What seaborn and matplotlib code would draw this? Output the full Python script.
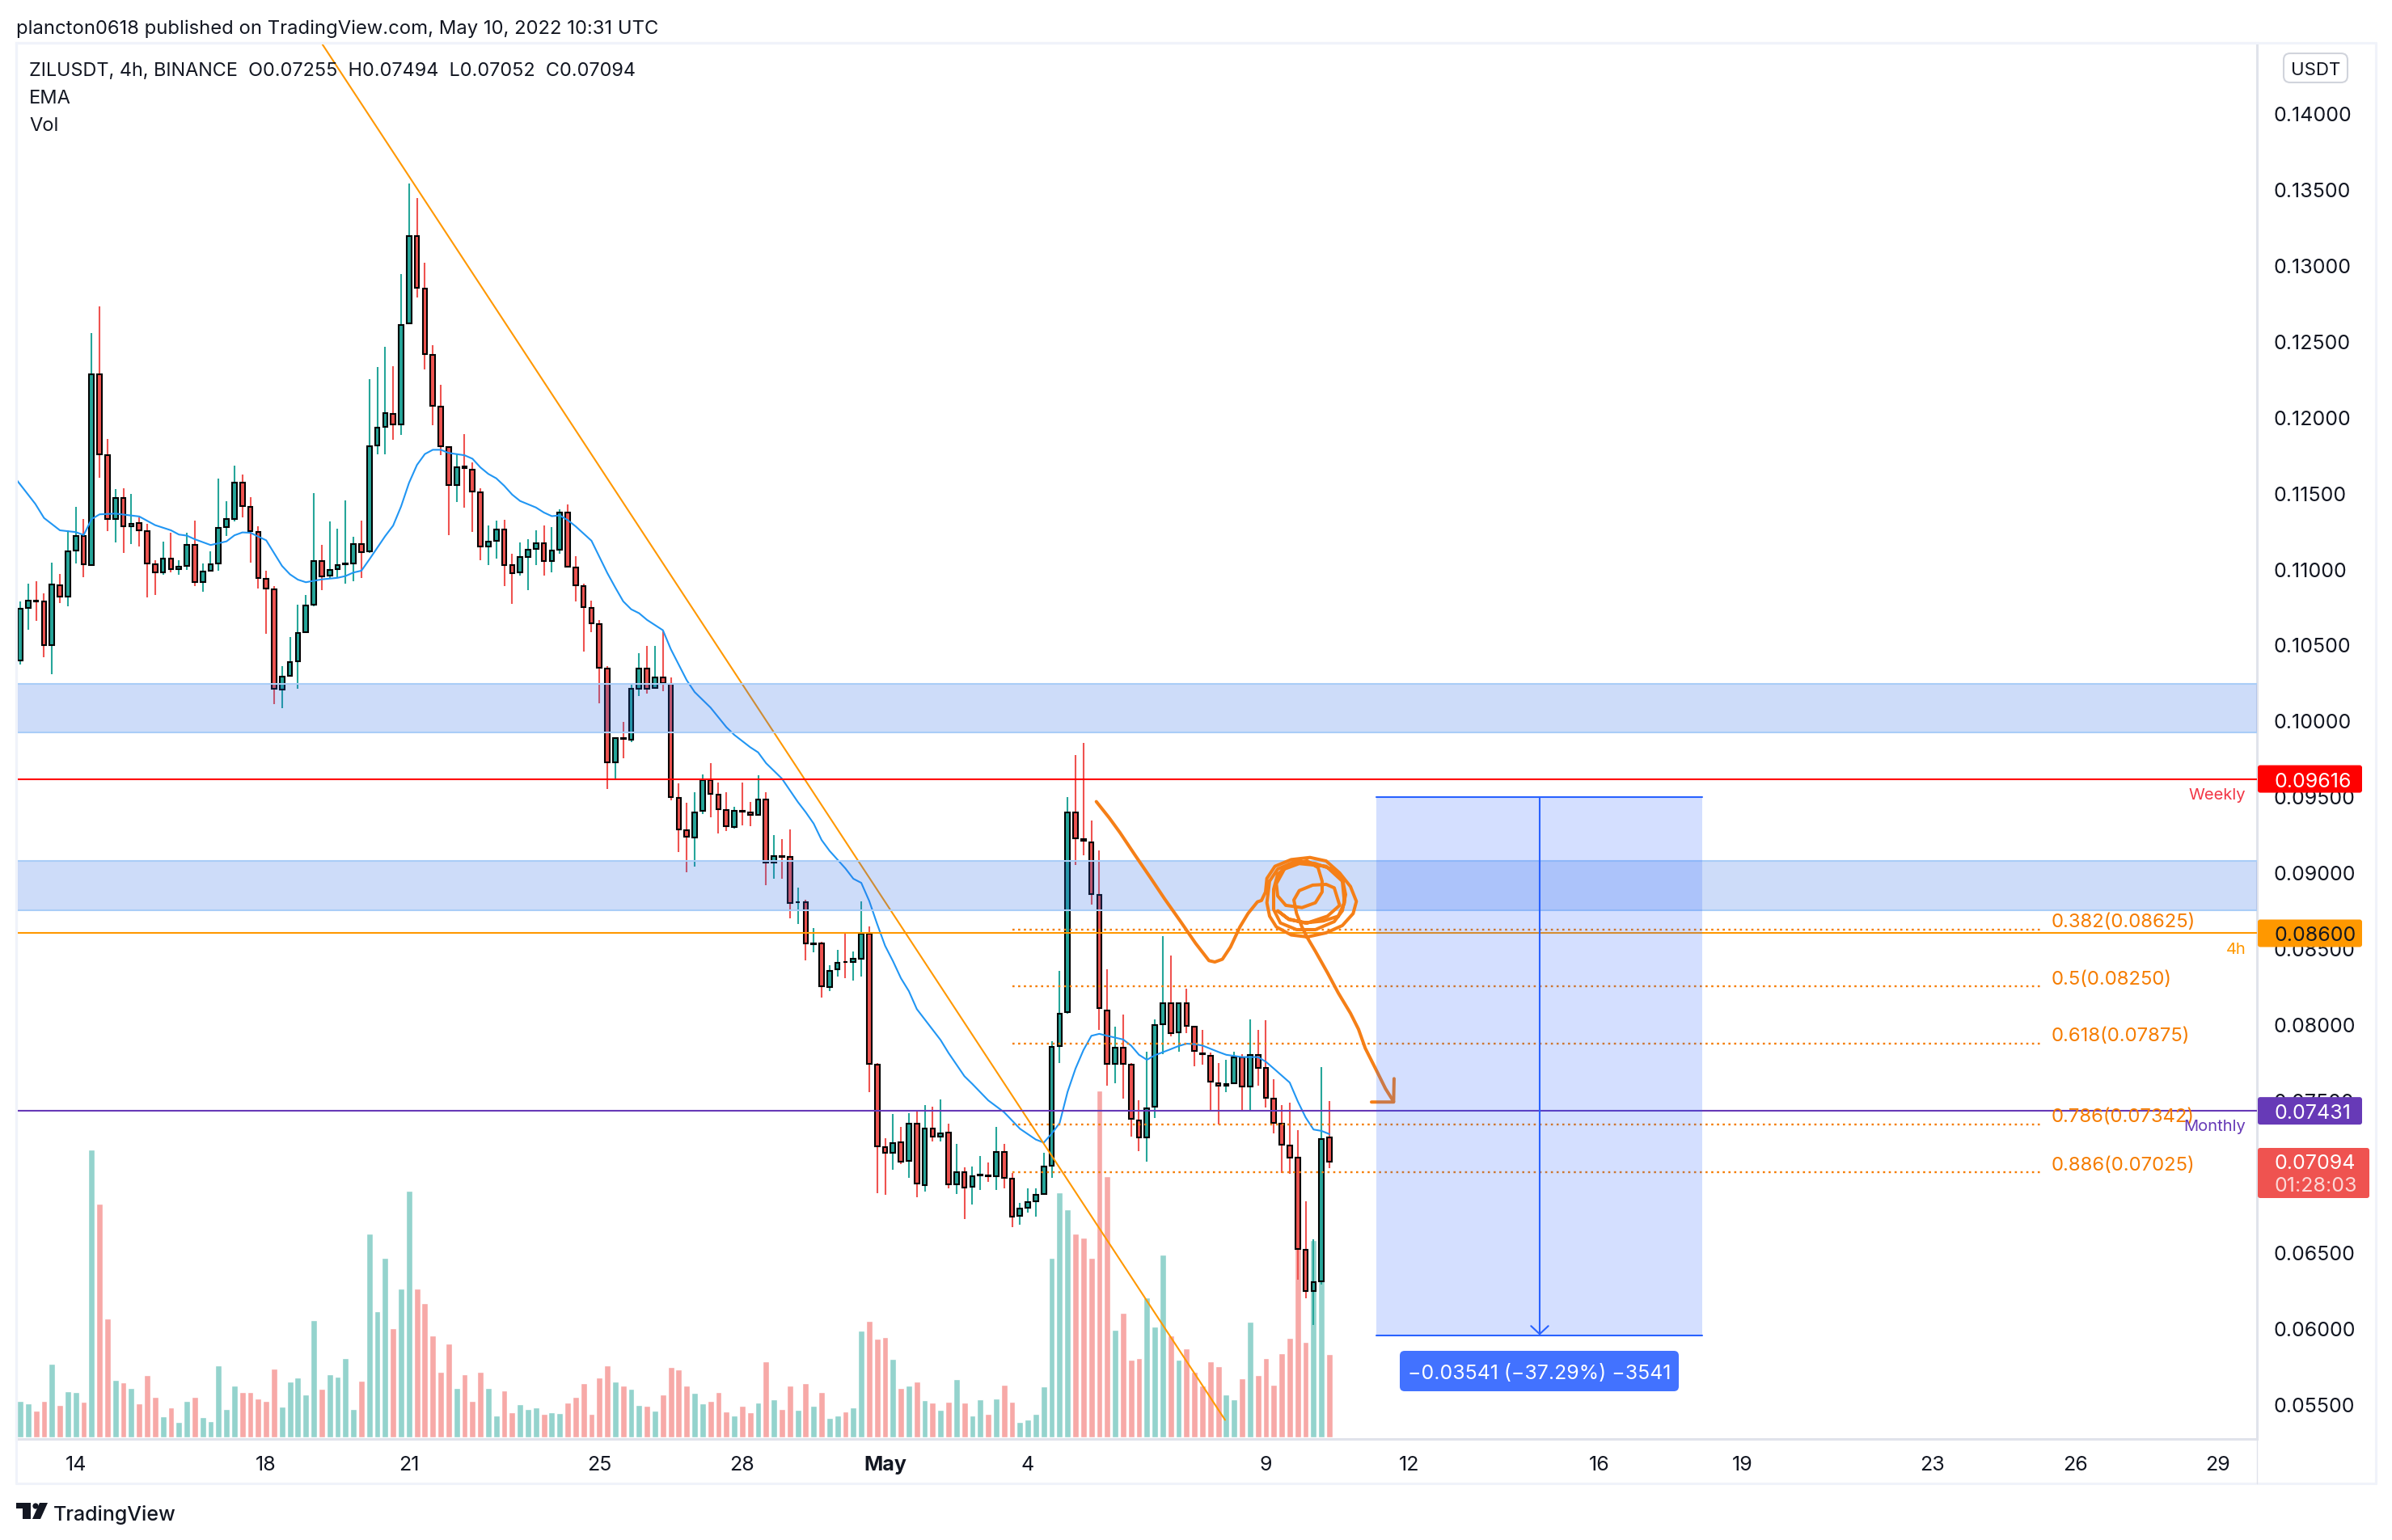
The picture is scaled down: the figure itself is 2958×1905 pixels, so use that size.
import numpy as np
import pandas as pd
import seaborn as sns
import matplotlib.pyplot as plt
from matplotlib.lines import Line2D
from matplotlib.patches import FancyBboxPatch, Polygon, Circle, Rectangle
from matplotlib.transforms import IdentityTransform

W, H = 2958, 1906
TICK = 0.00001  # prices below are in ticks, same unit as the -3541 label

# 4h candles, ZILUSDT
opens = [
    10396, 10740, 10788, 10785, 10495, 10892, 10816, 11120, 11215, 11025,
    12282, 11747, 11329, 11467, 11279, 11301, 11249, 11030, 10975, 11068,
    10997, 11018, 11158, 10911, 10987, 11035, 11272, 11327, 11569, 11408,
    11244, 10935, 10864, 10206, 10293, 10393, 10581, 10764, 11051, 10954,
    10997, 11028, 11035, 11163, 11113, 11812, 11933, 12021, 11949, 12615,
    13192, 12845, 12408, 12068, 11802, 11550, 11671, 11652, 11503, 11149,
    11182, 11258, 11025, 10975, 11077, 11130, 11168, 11049, 11125, 11370,
    11009, 10885, 10742, 10636, 10344, 9723, 9886, 9872, 10212, 10341,
    10215, 10286, 10242, 9489, 9278, 9231, 9404, 9611, 9512, 9414,
    9302, 9404, 9394, 9380, 9482, 9068, 9109, 9102, 8803, 8803,
    8528, 8532, 8247, 8362, 8413, 8413, 8433, 8599, 7734, 7194,
    7157, 7222, 7103, 7347, 6943, 7317, 7262, 7286, 6950, 7025,
    6930, 7006, 7006, 7000, 7159, 6985, 6740, 6792, 6835, 6884,
    7070, 7858, 8081, 9395, 9218, 9196, 8851, 8090, 7739, 7846,
    7733, 7369, 7256, 7458, 8002, 8142, 7950, 8139, 7984, 7809,
    7791, 7611, 7596, 7614, 7785, 7592, 7797, 7712, 7510, 7345,
    7201, 7122, 6514, 6245, 6309, 7255,
]
highs = [
    10785, 10899, 10918, 10840, 11042, 10963, 11251, 11405, 11329, 12551,
    12729, 11854, 11524, 11529, 11493, 11339, 11296, 11054, 11177, 11239,
    11054, 11239, 11315, 11035, 11115, 11593, 11443, 11679, 11619, 11469,
    11279, 10987, 10887, 10358, 10550, 10764, 10828, 11498, 11156, 11310,
    11263, 11450, 11211, 11317, 12249, 12327, 12463, 12332, 12940, 13537,
    13439, 13014, 12472, 12211, 11806, 11755, 11885, 11700, 11529, 11284,
    11315, 11322, 11096, 11173, 11192, 11253, 11287, 11272, 11391, 11422,
    11082, 10904, 10792, 10662, 10358, 9889, 9991, 10235, 10442, 10493,
    10493, 10595, 10283, 9587, 9458, 9529, 9645, 9720, 9594, 9529,
    9431, 9594, 9465, 9638, 9529, 9248, 9221, 9285, 8898, 8823,
    8637, 8542, 8389, 8491, 8610, 8481, 8810, 8647, 7745, 7252,
    7412, 7327, 7415, 7429, 7469, 7459, 7507, 7344, 7215, 7059,
    7067, 7134, 7091, 7327, 7214, 7021, 6823, 6923, 6920, 7153,
    7892, 8350, 9496, 9771, 9853, 9343, 9147, 8365, 7984, 8066,
    7745, 7501, 7822, 8035, 8579, 8451, 8145, 8234, 7993, 7962,
    7815, 7745, 7767, 7822, 7806, 8035, 7962, 8029, 7638, 7467,
    7486, 7302, 6838, 6587, 7718, 7494,
]
lows = [
    10372, 10600, 10655, 10417, 10308, 10773, 10754, 11035, 10942, 11020,
    11600, 11249, 11173, 11106, 11165, 11144, 10809, 10828, 10959, 10975,
    10959, 10994, 10887, 10849, 10985, 10987, 11213, 11310, 11339, 11042,
    10868, 10574, 10108, 10080, 10290, 10210, 10577, 10750, 10859, 10935,
    10940, 10904, 10918, 10940, 11106, 11752, 11752, 11850, 11881, 12610,
    12788, 12313, 11945, 11747, 11220, 11439, 11403, 11244, 11054, 11025,
    11066, 10887, 10766, 10954, 10859, 11023, 10954, 10975, 11101, 11010,
    10785, 10455, 10583, 10115, 9550, 9611, 9753, 9859, 10161, 10178,
    10210, 10195, 9475, 9136, 9000, 9041, 9383, 9363, 9258, 9271,
    9288, 9312, 9305, 9373, 8915, 8959, 8959, 8698, 8661, 8423,
    8474, 8175, 8219, 8314, 8304, 8287, 8314, 7554, 6889, 6879,
    7042, 7082, 6991, 6862, 6902, 7228, 7228, 6923, 6882, 6716,
    6817, 6908, 6966, 6908, 6923, 6664, 6679, 6762, 6737, 6880,
    6988, 7748, 8069, 9047, 9111, 8787, 7962, 7599, 7611, 7510,
    7263, 7168, 7098, 7382, 7806, 7922, 7819, 7944, 7727, 7736,
    7424, 7342, 7553, 7610, 7424, 7434, 7596, 7455, 7281, 7021,
    7015, 6319, 6196, 6019, 6288, 7052,
]
closes = [
    10738, 10790, 10785, 10495, 10897, 10816, 11115, 11215, 11028, 12282,
    11752, 11329, 11467, 11279, 11296, 11253, 11035, 10975, 11068, 10999,
    11016, 11158, 10911, 10982, 11030, 11270, 11327, 11569, 11415, 11249,
    10940, 10868, 10210, 10291, 10386, 10579, 10759, 11051, 10949, 10992,
    11025, 11035, 11163, 11111, 11807, 11928, 12025, 11949, 12605, 13192,
    12850, 12413, 12071, 11805, 11550, 11669, 11664, 11510, 11146, 11180,
    11258, 11023, 10971, 11077, 11125, 11168, 11049, 11120, 11370, 11013,
    10890, 10747, 10643, 10350, 9726, 9886, 9882, 10212, 10344, 10212,
    10283, 10246, 9495, 9285, 9234, 9394, 9608, 9516, 9417, 9305,
    9404, 9400, 9377, 9482, 9068, 9109, 9105, 8800, 8807, 8535,
    8535, 8250, 8355, 8403, 8409, 8430, 8599, 7741, 7198, 7157,
    7218, 7099, 7347, 6953, 7317, 7262, 7283, 6950, 7025, 6926,
    7000, 7009, 7003, 7159, 6991, 6737, 6786, 6829, 6878, 7064,
    7852, 8072, 9395, 9227, 9209, 8860, 8106, 7739, 7846, 7739,
    7379, 7256, 7449, 7996, 8142, 7944, 8139, 7990, 7825, 7803,
    7623, 7596, 7605, 7782, 7592, 7797, 7715, 7516, 7351, 7208,
    7125, 6523, 6245, 6303, 7244, 7094,
]
volumes = [
    135, 126, 99, 135, 273, 120, 171, 168, 132, 1068,
    867, 441, 213, 204, 183, 126, 231, 150, 78, 111,
    57, 135, 150, 75, 60, 267, 105, 192, 168, 168,
    144, 135, 255, 114, 207, 222, 159, 435, 180, 234,
    225, 294, 105, 210, 756, 468, 666, 405, 552, 915,
    552, 498, 378, 243, 348, 183, 234, 135, 243, 183,
    81, 174, 93, 123, 105, 111, 87, 93, 90, 129,
    150, 201, 87, 222, 267, 207, 192, 180, 120, 117,
    99, 159, 261, 252, 192, 165, 126, 135, 168, 96,
    81, 117, 93, 129, 282, 141, 105, 192, 102, 201,
    117, 168, 72, 81, 96, 111, 396, 432, 366, 372,
    291, 183, 192, 207, 138, 129, 102, 132, 216, 129,
    81, 141, 87, 144, 196, 133, 57, 67, 88, 189,
    666, 909, 847, 756, 742, 666, 1288, 969, 400, 463,
    289, 294, 520, 412, 678, 379, 289, 331, 243, 193,
    282, 265, 160, 141, 220, 429, 231, 294, 196, 313,
    370, 732, 355, 732, 651, 310,
]

# EMA, vertices only
ema_bars = [
    -0.5, 1.9, 3, 5, 7, 8, 9, 10, 12, 15, 17, 19, 20, 21, 22, 24, 26, 27, 28, 29,
    31, 33, 34, 35, 36, 38, 40, 41, 42, 43, 44, 46, 47, 48, 49, 50, 51, 52, 53, 54,
    56, 57, 58, 59, 60, 61, 62, 63, 65, 66, 67, 68, 69, 70, 72, 73, 74, 75, 76, 77,
    78, 79, 81, 82, 83, 84, 85, 86, 87, 89, 90, 92, 93, 94, 96, 98, 99, 100, 101, 102,
    103, 104, 105, 106, 107, 108, 109, 110, 111, 112, 113, 115, 116, 117, 119, 120, 122, 124, 126, 128,
    129, 130, 131, 132, 133, 134, 135, 136, 137, 139, 140, 141, 142, 143, 145, 146, 147, 148, 149, 151,
    152, 154, 156, 157, 158, 160, 161, 162, 163, 164, 165,
]
ema_vals = [
    11588, 11427, 11334, 11253, 11241, 11222, 11327, 11358, 11363, 11344, 11287, 11253, 11225, 11218, 11194, 11156, 11180, 11220, 11239, 11237,
    11187, 11018, 10963, 10928, 10911, 10930, 10940, 10952, 10975, 10987, 11061, 11215, 11284, 11410, 11565, 11683, 11755, 11783, 11783, 11762,
    11747, 11724, 11667, 11624, 11595, 11546, 11488, 11446, 11403, 11370, 11346, 11351, 11320, 11279, 11184, 11077, 10971, 10876, 10785, 10733,
    10707, 10663, 10595, 10470, 10368, 10266, 10188, 10137, 10086, 9957, 9906, 9825, 9791, 9720, 9618, 9465, 9397, 9322, 9214, 9143,
    9085, 9027, 8959, 8932, 8813, 8661, 8518, 8416, 8304, 8219, 8101, 7965, 7897, 7812, 7659, 7608, 7500, 7422, 7313, 7242,
    7222, 7281, 7351, 7556, 7709, 7831, 7925, 7938, 7925, 7901, 7861, 7800, 7767, 7797, 7837, 7858, 7873, 7870, 7861, 7819,
    7800, 7785, 7785, 7754, 7709, 7617, 7495, 7388, 7308, 7299, 7278,
]

# hand drawn orange path (bar index, price in ticks)
sketch_bars = [
    135.62, 137.25, 138.6, 140.47, 142.51, 144.21, 146.25, 148.12, 149.82, 150.56, 151.51, 152.53, 153.72, 154.74, 155.93, 156.44,
    156.95, 157.12, 158.14, 160.18, 162.55, 164.59, 166.29, 167.65, 168.4, 167.99, 166.63, 164.59, 162.22, 160.18, 158.31, 157.46, 157.12,
    157.46, 158.48, 160.86, 163.23, 165.27, 166.63, 167.04, 166.63, 165.61, 163.23, 160.86, 158.82, 157.97, 157.97,
    158.48, 159.84, 162.22, 163.57, 164.08, 164.08, 163.23, 161.54, 159.5, 158.48, 158.31, 159.33,
    161.2, 164.59, 166.63, 166.9, 166.12, 164.25, 161.88, 159.84, 158.48, 159.9,
    162.22, 164.76, 166.29, 165.61, 164.59, 162.89, 161.2, 160.52, 160.86, 161.54, 162.22, 163.23, 164.76, 166.12, 167.65, 168.67, 169.52, 170.88, 172.07, 173.09,
]
sketch_vals = [
    9467, 9360, 9263, 9117, 8961, 8828, 8677, 8535, 8420, 8411, 8429, 8509, 8642, 8730, 8807, 8816,
    8872, 8961, 9041, 9085, 9099, 9076, 8997, 8908, 8810, 8730, 8651, 8603, 8576, 8589, 8642, 8713, 8801,
    8943, 9023, 9076, 9059, 9023, 8961, 8855, 8748, 8677, 8624, 8624, 8668, 8757, 8890,
    8988, 9050, 9076, 9032, 8943, 8872, 8801, 8769, 8784, 8846, 8926, 9023,
    9059, 9041, 8943, 8801, 8713, 8681, 8668, 8695, 8748, 8690,
    8668, 8713, 8784, 8899, 8922, 8917, 8881, 8819, 8730, 8642, 8571, 8482, 8340, 8207, 8074, 7968, 7843, 7702, 7577, 7492,
]
sketch_head_bars = [170.3, 173.09, 173.15]
sketch_head_vals = [7489, 7489, 7643]

trend_bars = [38.1, 151.85]
trend_vals = [14451, 5396]

band_levels = [(9920, 10244), (8752, 9078)]
level_prices = [9616, 8600, 7431]
level_colors = ["#ff0000", "#ff9800", "#673ab7"]
level_names = ["Weekly", "4h", "Monthly"]
level_name_colors = ["#f23645", "#ff9800", "#673ab7"]

fib_ratios = ["0.382", "0.5", "0.618", "0.786", "0.886"]
fib_prices = [8625, 8250, 7875, 7342, 7025]
fib_bars = [125, 254.9]

short_bars = [170.9, 212.0]
short_top, short_bottom = 9495, 5954
short_mid = 191.5

price_ticks = list(range(5500, 14001, 500))
time_pos = [7, 31, 49, 73, 91, 109, 127, 157, 175, 199, 217, 241, 259, 277]
time_labels = ["14", "18", "21", "25", "28", "May", "4", "9", "12", "16", "19", "23", "26", "29"]

GREEN, RED = "#26a69a", "#ef5350"
VOL_GREEN, VOL_RED = "#94d3cd", "#f7a9a7"
TEXT = "#131722"
BLUE = "#2962ff"
FIB = "#f57c00"

sns.set_theme(style="white")
plt.rcParams["font.family"] = ["Inter", "DejaVu Sans"]

df = pd.DataFrame({"bar": np.arange(len(opens)), "open": opens, "high": highs, "low": lows,
                   "close": closes, "volume": volumes})
for col in ["open", "high", "low", "close"]:
    df[col] = df[col] * TICK
df["side"] = np.where(df["close"] >= df["open"], "up", "down")


def fx(x):
    return x / W


def fy(y):
    return 1 - y / H


fig = plt.figure(figsize=(W / 100, H / 100), dpi=100, facecolor="white")
rect = [fx(20), fy(1781), fx(2791 - 20), (1781 - 54) / H]

ax_vol = fig.add_axes(rect)
sns.barplot(data=df, x="bar", y="volume", hue="side", palette={"up": VOL_GREEN, "down": VOL_RED},
            native_scale=True, dodge=False, width=0.8, saturation=1, errorbar=None, legend=False, ax=ax_vol)
ax_vol.set_ylim(-6, 5175)
ax_vol.set_xlim(-0.51, 281.9)
ax_vol.set_xlabel("")
ax_vol.set_ylabel("")
ax_vol.set_yticks([])
ax_vol.set_xticks([])
ax_vol.grid(False)
for s in ax_vol.spines.values():
    s.set_visible(False)

ax = fig.add_axes(rect)
ax.patch.set_visible(False)
ax.set_xlim(-0.51, 281.9)
ax.set_ylim(0.05271, 0.14462)
ax.grid(False)

# candles
up = df[df["side"] == "up"]
down = df[df["side"] == "down"]
ax.vlines(up["bar"], up["low"], up["high"], color=GREEN, lw=1.5, zorder=2)
ax.vlines(down["bar"], down["low"], down["high"], color=RED, lw=1.5, zorder=2)
ax.bar(up["bar"], up["close"] - up["open"], bottom=up["open"], width=0.58, color=GREEN,
       edgecolor="black", linewidth=1.5, zorder=3)
ax.bar(down["bar"], down["open"] - down["close"], bottom=down["close"], width=0.58, color=RED,
       edgecolor="black", linewidth=1.5, zorder=3)

# EMA
sns.lineplot(x=ema_bars, y=np.array(ema_vals) * TICK, color="#2196f3", lw=1.5, sort=False,
             estimator=None, ax=ax, zorder=4)

# trend line and horizontal levels
ax.plot(trend_bars, np.array(trend_vals) * TICK, color="#ff9800", lw=1.5, zorder=4)
for price, color in zip(level_prices, level_colors):
    ax.axhline(price * TICK, color=color, lw=1.5, zorder=4)

# fib levels
for ratio, price in zip(fib_ratios, fib_prices):
    ax.plot(fib_bars, [price * TICK] * 2, color=FIB, lw=1.7, ls=(0, (1.1, 1.9)), dash_capstyle="butt", zorder=4)
    ax.annotate(f"{ratio}({price * TICK:.5f})", xy=(fib_bars[1], price * TICK), xytext=(7.5, 7),
                textcoords="offset points", color=FIB, fontsize=17.2, va="center", ha="left", zorder=6)

# support/resistance bands
for lo, hi in band_levels:
    ax.axhspan(lo * TICK, hi * TICK, facecolor="#2a68e6", alpha=0.23, lw=0, zorder=5)
    ax.axhline(lo * TICK, color="#a9cdf7", lw=1.5, zorder=5)
    ax.axhline(hi * TICK, color="#a9cdf7", lw=1.5, zorder=5)

# hand drawing
ax.plot(sketch_bars, np.array(sketch_vals) * TICK, color="#f57f17", lw=2.9, solid_joinstyle="round",
        solid_capstyle="round", zorder=6)
ax.plot(sketch_head_bars, np.array(sketch_head_vals) * TICK, color="#f57f17", lw=2.9, solid_joinstyle="round",
        zorder=6)

# short position box
ax.fill_between(short_bars, short_bottom * TICK, short_top * TICK, facecolor=BLUE, alpha=0.2, lw=0, zorder=7)
ax.plot(short_bars, [short_top * TICK] * 2, color=BLUE, lw=1.5, zorder=7)
ax.plot(short_bars, [short_bottom * TICK] * 2, color=BLUE, lw=1.5, zorder=7)
ax.annotate("", xy=(short_mid, short_bottom * TICK), xytext=(short_mid, short_top * TICK), zorder=8,
            arrowprops=dict(arrowstyle="->,head_length=0.72,head_width=0.77", mutation_scale=10,
                            color=BLUE, lw=1.5, shrinkA=0, shrinkB=0))

# axes and ticks
ax.yaxis.tick_right()
ax.set_yticks([p * TICK for p in price_ticks])
ax.set_yticklabels([f"{p * TICK:.5f}" for p in price_ticks], color=TEXT, fontsize=18)
ax.set_xticks(time_pos)
ax.set_xticklabels(time_labels, color=TEXT, fontsize=18)
for lab in ax.get_xticklabels():
    if lab.get_text() == "May":
        lab.set_fontweight("bold")
ax.tick_params(axis="y", length=0, pad=15)
ax.tick_params(axis="x", length=0, pad=14.5)
for side, s in ax.spines.items():
    s.set_linewidth(2.2)
    s.set_color("#e0e3eb" if side in ("right", "bottom") else "#f0f3fa")

# outer pane border
for x0, y0, x1, y1 in [(20, 1836, 2938, 1836), (2938, 54, 2938, 1836), (20, 54, 2938, 54), (20, 54, 20, 1836)]:
    fig.add_artist(Line2D([fx(x0), fx(x1)], [fy(y0), fy(y1)], color="#f0f3fa", lw=2.2))
fig.add_artist(Line2D([fx(2791)] * 2, [fy(1781), fy(1836)], color="#e0e3eb", lw=1))

ident = IdentityTransform()


# price scale tags sit on the right of the axes, drawn in screen pixels
def price_tag(price, label, fill, color, right=2921, half=17):
    yc = ax.transData.transform((0, price * TICK))[1]
    fig.add_artist(FancyBboxPatch((2792, yc - half), right - 2792, 2 * half, boxstyle="round,pad=0,rounding_size=3",
                                  fc=fill, ec="none", transform=ident, zorder=5))
    fig.text(2812, yc, label, color=color, fontsize=18, va="center_baseline", ha="left", transform=ident, zorder=6)


price_tag(level_prices[0], "0.09616", "#ff0000", "white")
price_tag(level_prices[1], "0.08600", "#ff9800", "#131722")
price_tag(level_prices[2], "0.07431", "#673ab7", "white")

fig.add_artist(FancyBboxPatch((2792, fy(1483) * H), 138, 62, boxstyle="round,pad=0,rounding_size=3",
                              fc="#ef5350", ec="none", transform=ident, zorder=5))
fig.text(fx(2812), fy(1437.5), "0.07094", color="white", fontsize=18, va="center_baseline", zorder=6)
fig.text(fx(2812), fy(1465), "01:28:03", color="#fbd7d6", fontsize=18, va="center_baseline", zorder=6)

# level captions
for price, name, color in zip(level_prices, level_names, level_name_colors):
    ax.annotate(name, xy=(1, price * TICK), xycoords=ax.get_yaxis_transform(), xytext=(-9.7, -13.8),
                textcoords="offset points", color=color, fontsize=14.5, ha="right", va="center", zorder=6)

# measure label
fig.add_artist(FancyBboxPatch((1731, fy(1722) * H), 345, 50, boxstyle="round,pad=0,rounding_size=6",
                              fc="#4272ff", ec="none", transform=ident, zorder=5))
fig.text(fx(1904), fy(1697), "\u22120.03541 (\u221237.29%) \u22123541", color="white", fontsize=17.9,
         ha="center", va="center_baseline", zorder=6)

# USDT badge
fig.add_artist(FancyBboxPatch((2824, fy(103) * H), 79, 36, boxstyle="round,pad=0,rounding_size=8",
                              fc="white", ec="#d1d4dc", lw=1.5, transform=ident, zorder=5))
fig.text(fx(2864), fy(85), "USDT", color=TEXT, fontsize=16, ha="center", va="center_baseline", zorder=6)

# header and legend
fig.text(fx(20), fy(33), "plancton0618 published on TradingView.com, May 10, 2022 10:31 UTC", color=TEXT,
         fontsize=17.15, va="center_baseline")
fig.text(fx(36), fy(86), "ZILUSDT, 4h, BINANCE  O0.07255  H0.07494  L0.07052  C0.07094", color=TEXT,
         fontsize=16.9, va="center_baseline")
fig.text(fx(36), fy(120), "EMA", color=TEXT, fontsize=17, va="center_baseline")
fig.text(fx(36), fy(154), "Vol", color=TEXT, fontsize=17, va="center_baseline")

# TradingView logo
logo = [
    Rectangle((20, fy(1867) * H), 18, 7, fc=TEXT, ec="none", transform=ident),
    Rectangle((28, fy(1880) * H), 10, 13, fc=TEXT, ec="none", transform=ident),
    Circle((44, fy(1864) * H), 3.6, fc=TEXT, ec="none", transform=ident),
    Polygon([(49, fy(1860) * H), (59, fy(1860) * H), (50, fy(1880) * H), (40, fy(1880) * H)], fc=TEXT, ec="none",
            transform=ident),
]
for patch in logo:
    fig.add_artist(patch)
fig.text(fx(66), fy(1872), "TradingView", color=TEXT, fontsize=18, va="center_baseline", fontweight="medium")

fig.savefig("out.png", dpi=100)
